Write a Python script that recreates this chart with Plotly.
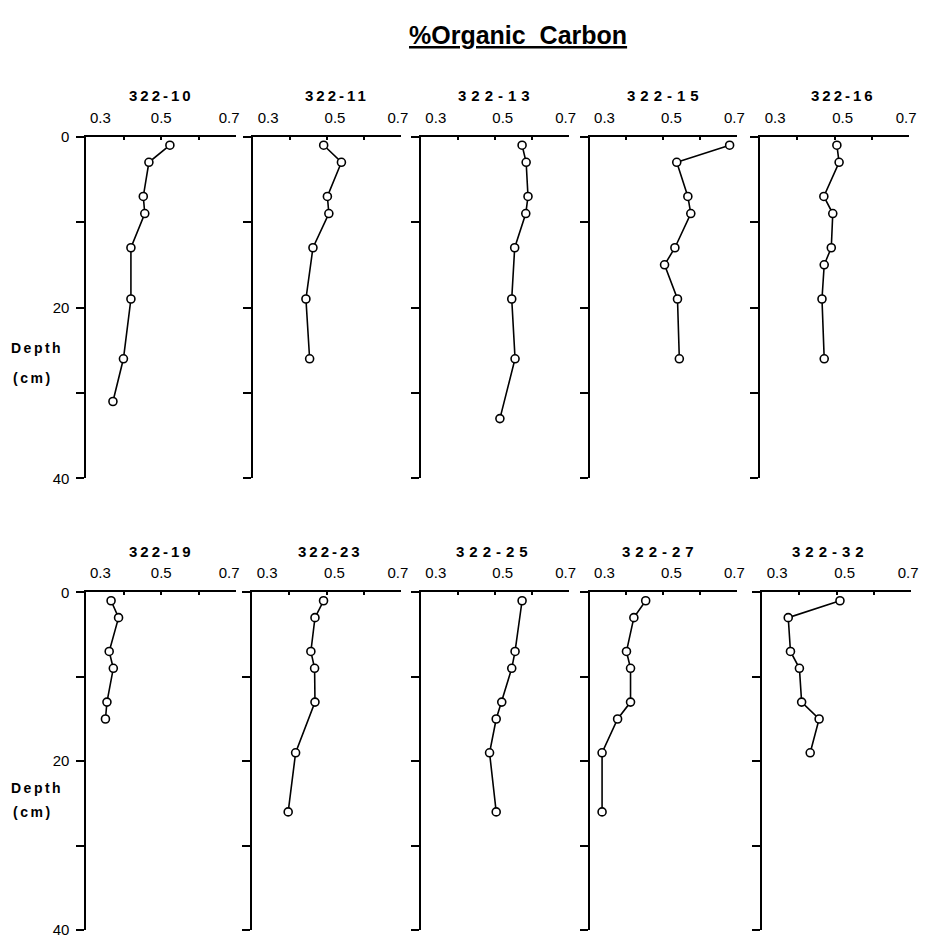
import plotly.graph_objects as go

# ---------------- data ----------------
cores = ["322-10", "322-11", "322-13", "322-15", "322-16",
         "322-19", "322-23", "322-25", "322-27", "322-32"]

depth_322_10 = [1, 3, 7, 9, 13, 19, 26, 31]
oc_322_10 = [0.523, 0.467, 0.452, 0.456, 0.419, 0.419, 0.399, 0.371]

depth_322_11 = [1, 3, 7, 9, 13, 19, 26]
oc_322_11 = [0.491, 0.539, 0.501, 0.505, 0.462, 0.443, 0.453]

depth_322_13 = [1, 3, 7, 9, 13, 19, 26, 33]
oc_322_13 = [0.574, 0.585, 0.590, 0.584, 0.554, 0.546, 0.555, 0.514]

depth_322_15 = [1, 3, 7, 9, 13, 15, 19, 26]
oc_322_15 = [0.679, 0.536, 0.566, 0.574, 0.531, 0.503, 0.538, 0.543]

depth_322_16 = [1, 3, 7, 9, 13, 15, 19, 26]
oc_322_16 = [0.506, 0.512, 0.471, 0.495, 0.491, 0.472, 0.466, 0.472]

depth_322_19 = [1, 3, 7, 9, 13, 15]
oc_322_19 = [0.366, 0.386, 0.361, 0.372, 0.355, 0.351]

depth_322_23 = [1, 3, 7, 9, 13, 19, 26]
oc_322_23 = [0.492, 0.469, 0.458, 0.468, 0.469, 0.417, 0.397]

depth_322_25 = [1, 7, 9, 13, 15, 19, 26]
oc_322_25 = [0.574, 0.555, 0.546, 0.519, 0.504, 0.486, 0.504]

depth_322_27 = [1, 3, 7, 9, 13, 15, 19, 26]
oc_322_27 = [0.452, 0.420, 0.400, 0.411, 0.411, 0.376, 0.334, 0.334]

depth_322_32 = [1, 3, 7, 9, 13, 15, 19]
oc_322_32 = [0.509, 0.370, 0.376, 0.400, 0.406, 0.453, 0.429]

depths = [depth_322_10, depth_322_11, depth_322_13, depth_322_15, depth_322_16,
          depth_322_19, depth_322_23, depth_322_25, depth_322_27, depth_322_32]
values = [oc_322_10, oc_322_11, oc_322_13, oc_322_15, oc_322_16,
          oc_322_19, oc_322_23, oc_322_25, oc_322_27, oc_322_32]

x_tick_vals = [0.3, 0.4, 0.5, 0.6, 0.7]
x_label_vals = [0.3, 0.5, 0.7]
x_label_text = ["0.3", "0.5", "0.7"]
y_tick_vals = [0, 10, 20, 30, 40]
y_tick_text = ["0", "", "20", "", "40"]

title_text = "%Organic  Carbon"
depth_label = "Depth"
unit_label = "(cm)"

# ---------------- layout geometry ----------------
W, H = 925, 945
FONT = "Liberation Sans, Arial, Helvetica, sans-serif"


def px_x(p):
    return min(1.0, max(0.0, p / W))


def px_y(p):
    return min(1.0, max(0.0, 1 - p / H))


panel_px = [(87, 238), (255, 404), (424, 573), (594, 743), (766, 916),
            (87, 238), (254, 404), (424, 573), (594, 743), (768, 918)]
row_px = [(130, 478), (594, 938)]
title_offsets = [0, 10, 2, 2, 9, 0, 4, 0, -3, -6]
wide_titles = {"322-13", "322-15", "322-25", "322-27", "322-32"}
# pixel shifts of the 0.3 / 0.5 / 0.7 labels relative to their ticks
label_shift_first = [14, 0, -7]
label_shift_other = [15, 8, -3]

fig = go.Figure()
layout = dict(
    width=W, height=H,
    margin=dict(l=0, r=0, t=0, b=0),
    paper_bgcolor="white", plot_bgcolor="white",
    showlegend=False,
    font=dict(family=FONT, color="black"),
)
annotations = []
tick_font = dict(size=15, family=FONT, color="black")
n_axes = len(cores)

for i, (core, d, v) in enumerate(zip(cores, depths, values)):
    n = i + 1
    row = i // 5
    col = i % 5
    l, r = panel_px[i]
    t, b = row_px[row]
    xa = "xaxis" if n == 1 else f"xaxis{n}"
    ya = "yaxis" if n == 1 else f"yaxis{n}"
    xr = "x" if n == 1 else f"x{n}"
    yr = "y" if n == 1 else f"y{n}"

    fig.add_trace(go.Scatter(
        x=v, y=d, xaxis=xr, yaxis=yr, mode="lines+markers",
        line=dict(color="black", width=1.6),
        marker=dict(symbol="circle", size=8, color="white",
                    line=dict(color="black", width=1.6)),
        cliponaxis=False, hoverinfo="x+y",
    ))

    # main x axis: line and ticks, no labels
    layout[xa] = dict(
        domain=[px_x(l), px_x(r)], range=[0.3, 0.7], side="top", anchor=yr,
        showline=True, linecolor="black", linewidth=1.8,
        ticks="inside", ticklen=3, tickwidth=1.5, tickcolor="black",
        tickmode="array", tickvals=x_tick_vals, showticklabels=False,
        showgrid=False, zeroline=False, fixedrange=True,
    )
    # label-only overlay axes (one per label so each can sit like the original)
    shifts = label_shift_first if col == 0 else label_shift_other
    for k, (val, txt) in enumerate(zip(x_label_vals, x_label_text)):
        m = n_axes + 1 + i * 3 + k
        fig.add_trace(go.Scatter(x=[], y=[], xaxis=f"x{m}", yaxis=yr,
                                 hoverinfo="skip", showlegend=False))
        layout[f"xaxis{m}"] = dict(
            overlaying=xr, anchor=yr, side="top", range=[0.3, 0.7],
            showline=False, ticks="", showgrid=False, zeroline=False,
            tickmode="array", tickvals=[val], ticktext=[txt],
            tickfont=tick_font, ticklabelshift=shifts[k],
            ticklabelstandoff=10, fixedrange=True,
        )

    layout[ya] = dict(
        domain=[px_y(b), px_y(t)], range=[40, 0], anchor=xr,
        showline=True, linecolor="black", linewidth=1.8,
        ticks="outside", ticklen=8, tickwidth=1.8, tickcolor="black",
        tickmode="array", tickvals=y_tick_vals, ticktext=y_tick_text,
        showticklabels=(col == 0),
        tickfont=tick_font, ticklabelstandoff=4,
        showgrid=False, zeroline=False, fixedrange=True,
    )

    spacing = 5 if core in wide_titles else 3
    annotations.append(dict(
        text=f"<b><span style='letter-spacing:{spacing}px'>{core}</span></b>",
        x=px_x((l + r) / 2 + title_offsets[i]), y=px_y(88 if row == 0 else 552),
        xref="paper", yref="paper", xanchor="center", yanchor="middle",
        showarrow=False, font=dict(size=15, family=FONT, color="black"),
    ))

for (dy, cy) in [(345, 376), (793, 818)]:
    annotations.append(dict(
        text=f"<b><span style='letter-spacing:2.5px'>{depth_label}</span></b>",
        x=px_x(37), y=px_y(dy), xref="paper", yref="paper",
        xanchor="center", yanchor="middle", showarrow=False,
        font=dict(size=14, family=FONT, color="black"),
    ))
    annotations.append(dict(
        text=f"<b><span style='letter-spacing:2.5px'>{unit_label}</span></b>",
        x=px_x(33), y=px_y(cy), xref="paper", yref="paper",
        xanchor="center", yanchor="middle", showarrow=False,
        font=dict(size=14, family=FONT, color="black"),
    ))

annotations.append(dict(
    text=f"<b><u>{title_text}</u></b>",
    x=px_x(522), y=px_y(26), xref="paper", yref="paper",
    xanchor="center", yanchor="middle", showarrow=False,
    font=dict(size=25, family=FONT, color="black"),
))

layout["annotations"] = annotations
fig.update_layout(**layout)

page_css = ("document.documentElement.style.margin='0px';"
            "document.body.style.margin='0px';"
            "document.body.style.padding='0px';"
            "document.documentElement.style.overflow='hidden';"
            "document.body.style.overflow='hidden';")
fig.write_html("out.html", post_script=page_css, config={"displayModeBar": False})
